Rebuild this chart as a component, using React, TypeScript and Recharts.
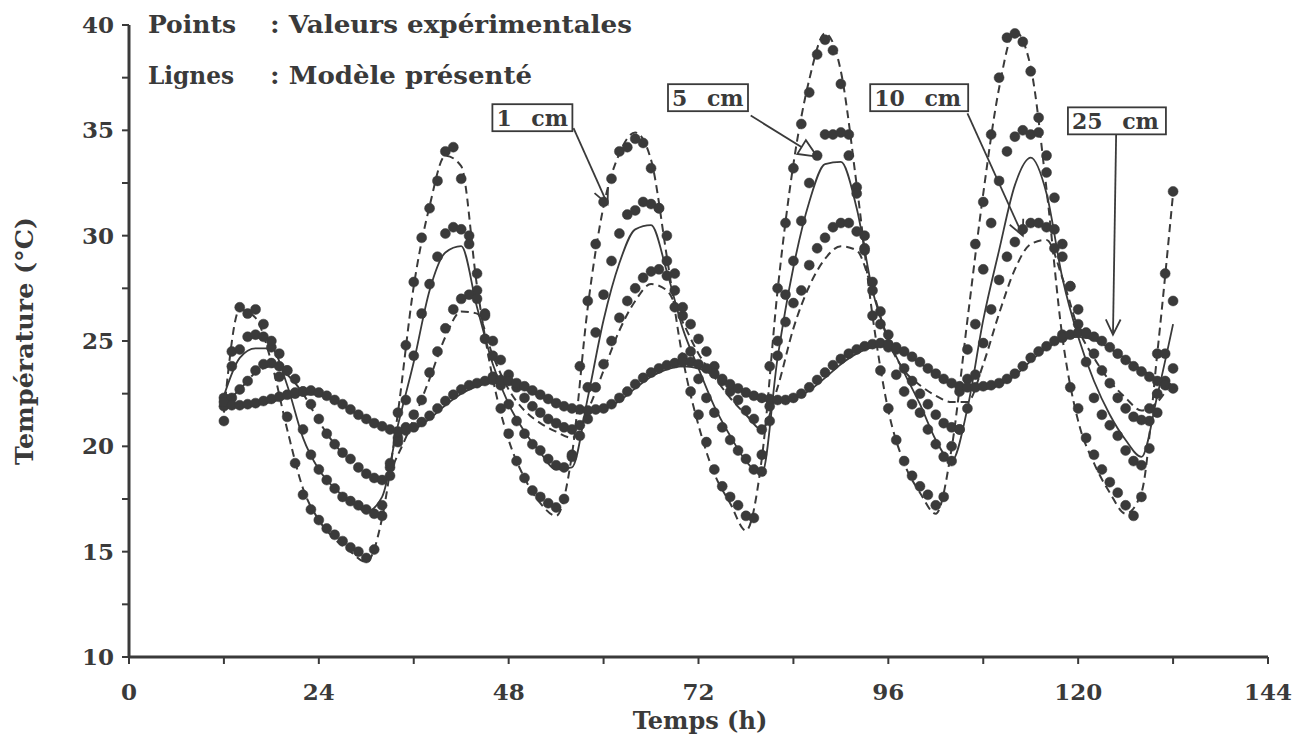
import React from "react";
import {
  ComposedChart,
  Line,
  XAxis,
  YAxis,
  ReferenceLine,
  ReferenceDot,
} from "recharts";

const INK = "#3a3a3a";
const FONT = "'DejaVu Serif', 'Liberation Serif', serif";

// measurement times (h), one reading per hour
const hours = [
  12, 13, 14, 15, 16, 17, 18, 19, 20, 21, 22, 23, 24, 25, 26, 27, 28, 29, 30, 31,
  32, 33, 34, 35, 36, 37, 38, 39, 40, 41, 42, 43, 44, 45, 46, 47, 48, 49, 50, 51,
  52, 53, 54, 55, 56, 57, 58, 59, 60, 61, 62, 63, 64, 65, 66, 67, 68, 69, 70, 71,
  72, 73, 74, 75, 76, 77, 78, 79, 80, 81, 82, 83, 84, 85, 86, 87, 88, 89, 90, 91,
  92, 93, 94, 95, 96, 97, 98, 99, 100, 101, 102, 103, 104, 105, 106, 107, 108, 109, 110, 111,
  112, 113, 114, 115, 116, 117, 118, 119, 120, 121, 122, 123, 124, 125, 126, 127, 128, 129, 130, 131,
  132,
];

// experimental points (°C)
const exp1cm = [
  21.2, 24.5, 26.6, 26.3, 26.5, 25.8, 24.7, 23.3, 21.4, 19.2, 17.7, 17.0, 16.5, 16.1, 15.8, 15.5, 15.2, 15.0, 14.7, 15.1,
  16.7, 19.0, 21.6, 24.8, 27.8, 29.9, 31.3, 32.6, 34.0, 34.2, 32.7, 30.0, 27.4, 25.1, 23.3, 21.8, 20.6, 19.3, 18.5, 17.9,
  17.6, 17.3, 17.1, 17.5, 19.6, 23.8, 26.9, 29.6, 31.6, 32.7, 34.0, 34.2, 34.6, 34.4, 33.2, 31.3, 28.8, 26.6, 24.2, 22.6,
  21.5, 20.2, 18.9, 18.1, 17.6, 17.2, 16.7, 16.6, 19.6, 23.8, 27.5, 30.6, 33.2, 35.3, 36.8, 38.6, 39.3, 38.8, 37.2, 34.8,
  32.3, 29.3, 26.2, 23.6, 21.8, 20.3, 19.3, 18.6, 18.1, 17.7, 17.2, 17.6, 20.0, 22.6, 24.6, 29.6, 31.6, 34.8, 37.5, 39.4,
  39.6, 39.2, 37.8, 35.6, 33.0, 29.4, 25.3, 22.8, 21.8, 20.4, 19.6, 18.9, 18.3, 17.8, 17.2, 16.7, 17.6, 21.2, 24.4, 28.2,
  32.1,
];
const exp5cm = [
  22.3, 23.8, 24.6, 25.2, 25.3, 25.2, 25.0, 24.4, 23.6, 22.5, 20.8, 19.6, 18.9, 18.4, 18.0, 17.6, 17.4, 17.2, 17.0, 16.8,
  17.2, 18.6, 20.4, 22.2, 24.3, 26.3, 27.7, 29.0, 30.1, 30.4, 30.3, 29.6, 28.2, 26.2, 24.3, 22.9, 22.0, 21.2, 20.6, 20.1,
  19.8, 19.4, 19.1, 19.0, 19.5, 21.0, 22.8, 25.4, 27.2, 28.8, 30.1, 31.0, 31.2, 31.6, 31.5, 31.3, 30.0, 28.2, 26.2, 24.5,
  23.2, 22.3, 21.6, 20.9, 20.3, 19.8, 19.4, 18.9, 18.8, 21.2, 25.0, 27.2, 28.8, 30.7, 32.5, 33.8, 34.8, 34.8, 34.9, 33.8,
  32.0, 30.0, 27.4, 25.8, 24.7, 23.4, 22.6, 22.0, 21.6, 20.8, 20.1, 19.5, 19.3, 20.8, 23.2, 25.8, 28.4, 30.6, 32.6, 34.0,
  34.7, 35.0, 34.8, 34.9, 33.8, 31.8, 29.6, 27.6, 25.8, 24.0, 22.3, 21.5, 21.0, 20.5, 19.8, 19.3, 19.1, 19.9, 21.6, 24.4,
  26.9,
];
const exp10cm = [
  21.9, 22.3, 22.7, 23.1, 23.6, 23.9, 23.95, 23.8, 23.6, 23.2, 22.6, 22.0, 21.3, 20.6, 20.1, 19.7, 19.4, 19.0, 18.7, 18.5,
  18.4, 19.2, 20.2, 20.9, 21.5, 22.2, 23.5, 24.5, 25.6, 26.5, 27.0, 27.2, 27.0, 26.3, 25.0, 24.1, 23.4, 22.8, 22.3, 21.9,
  21.6, 21.3, 21.1, 20.9, 20.8, 20.5, 21.3, 22.8, 23.9, 25.0, 26.1, 26.9, 27.5, 28.0, 28.3, 28.4, 28.1, 27.4, 26.6, 25.8,
  25.1, 24.5, 23.8, 23.1, 22.6, 22.2, 21.7, 21.3, 20.8, 21.9, 24.3, 25.9, 26.8, 27.4, 28.6, 29.4, 29.9, 30.4, 30.6, 30.6,
  30.2, 29.4, 27.8, 26.4, 25.3, 24.6, 23.7, 23.1, 22.5, 22.0, 21.5, 21.1, 20.9, 20.8, 21.8, 23.4, 24.9, 26.5, 27.9, 29.0,
  29.7, 30.3, 30.6, 30.6, 30.4, 30.3, 29.0, 27.6, 26.5, 25.4, 24.4, 23.6, 23.0, 22.3, 21.8, 21.4, 21.25, 21.8, 22.5, 23.1,
  23.7,
];
const exp25cm = [
  22.1, 21.95, 21.95, 22.0, 22.05, 22.15, 22.25, 22.35, 22.45, 22.55, 22.6, 22.65, 22.55, 22.4, 22.2, 22.0, 21.75, 21.5, 21.3, 21.1,
  20.95, 20.8, 20.7, 20.75, 20.9, 21.15, 21.45, 21.8, 22.15, 22.45, 22.7, 22.9, 23.0, 23.1, 23.15, 23.15, 23.1, 23.0, 22.85, 22.65,
  22.45, 22.25, 22.05, 21.9, 21.8, 21.75, 21.7, 21.75, 21.8, 22.0, 22.3, 22.6, 22.95, 23.25, 23.5, 23.7, 23.85, 23.95, 24.0, 24.0,
  23.9, 23.7, 23.45, 23.2, 22.95, 22.75, 22.55, 22.4, 22.3, 22.25, 22.2, 22.2, 22.3, 22.5, 22.8, 23.15, 23.5, 23.85, 24.15, 24.4,
  24.6, 24.75, 24.85, 24.9, 24.85, 24.7, 24.5, 24.25, 24.0, 23.7, 23.45, 23.2, 23.0, 22.85, 22.8, 22.8, 22.85, 22.9, 23.0, 23.2,
  23.45, 23.8, 24.2, 24.5, 24.75, 25.0, 25.15, 25.3, 25.4, 25.35, 25.2, 25.0, 24.7, 24.4, 24.1, 23.8, 23.55, 23.3, 23.1, 22.9,
  22.75,
];

// model curves, read every 2 h
const modelHours = [
  12, 14, 16, 18, 20, 22, 24, 26, 28, 30, 32, 34, 36, 38, 40, 42, 44, 46, 48, 50,
  52, 54, 56, 58, 60, 62, 64, 66, 68, 70, 72, 74, 76, 78, 80, 82, 84, 86, 88, 90,
  92, 94, 96, 98, 100, 102, 104, 106, 108, 110, 112, 114, 116, 118, 120, 122, 124, 126, 128, 130,
  132,
];
const model1cm = [
  21.6, 26.5, 26.1, 24.0, 20.8, 18.0, 16.5, 15.6, 15.0, 14.5, 16.6, 21.6, 27.6, 31.4, 33.8, 33.3, 27.6, 23.2, 20.3, 18.5,
  17.3, 16.7, 19.6, 26.6, 31.4, 33.9, 34.9, 33.6, 29.0, 24.2, 21.0, 18.7, 17.3, 16.0, 19.4, 27.4, 33.4, 37.4, 39.6, 37.8,
  32.4, 26.2, 21.7, 19.2, 17.8, 16.8, 19.9, 26.0, 32.0, 37.0, 39.7, 38.0, 32.2, 25.2, 21.2, 19.2, 17.8, 16.8, 17.8, 24.4,
  32.0,
];
const model5cm = [
  22.4, 24.2, 24.65, 24.65, 22.9, 20.4, 18.9, 18.0, 17.4, 16.9, 17.6, 21.0, 24.0, 27.4, 29.2, 29.5, 26.6, 23.9, 22.0, 20.7,
  19.7, 18.9, 19.0, 22.3, 26.0, 28.7, 30.3, 30.5, 28.3, 25.6, 23.7, 21.9, 20.5, 19.3, 18.7, 24.2, 28.5, 31.6, 33.4, 33.5,
  31.3, 27.4, 25.1, 23.5, 22.0, 20.3, 19.3, 21.8, 26.0, 29.3, 32.4, 33.7, 32.0, 28.0, 25.2, 23.1, 21.5, 20.3, 19.5, 22.4,
  25.8,
];
const model10cm = [
  22.0, 22.7, 23.5, 23.8, 23.4, 22.5, 21.2, 20.1, 19.3, 18.7, 18.3, 19.6, 21.3, 23.2, 25.2, 26.4, 26.3, 24.3, 22.7, 21.7,
  21.1, 20.7, 20.4, 21.7, 23.6, 25.5, 26.9, 27.7, 27.4, 25.9, 24.4, 23.3, 22.3, 21.5, 20.8, 22.8, 25.6, 27.6, 28.9, 29.5,
  29.3, 27.4, 25.0, 23.6, 22.9, 22.4, 22.1, 22.1, 23.9, 26.3, 28.4, 29.6, 29.8, 28.0, 25.6, 24.2, 23.1, 22.3, 21.7, 22.1,
  23.2,
];
const model25cm = [
  22.0, 21.9, 21.95, 22.1, 22.3, 22.45, 22.45, 22.15, 21.7, 21.25, 20.9, 20.65, 20.8, 21.3, 21.95, 22.5, 22.85, 23.0, 22.95, 22.7,
  22.35, 22.0, 21.75, 21.65, 21.75, 22.15, 22.75, 23.3, 23.65, 23.8, 23.7, 23.35, 22.9, 22.5, 22.25, 22.15, 22.25, 22.65, 23.25, 23.9,
  24.4, 24.7, 24.75, 24.45, 23.95, 23.4, 22.95, 22.7, 22.7, 22.9, 23.35, 24.05, 24.65, 25.05, 25.2, 25.05, 24.65, 24.15, 23.65, 23.2,
  22.85,
];

const xTicks = [0, 12, 24, 36, 48, 60, 72, 84, 96, 108, 120, 132, 144];
const yTicks = [10, 12.5, 15, 17.5, 20, 22.5, 25, 27.5, 30, 32.5, 35, 37.5, 40];

// depth call-outs, in data coordinates (h, °C)
const depthNames = ["1 cm", "5 cm", "10 cm", "25 cm"];
const boxCentre = [
  [51.0, 35.6],
  [73.2, 36.55],
  [99.9, 36.55],
  [124.9, 35.45],
];
const arrowStart = [
  [56.2, 35.1],
  [78.6, 35.7],
  [106.0, 35.8],
  [124.8, 34.8],
];
const arrowEnd = [
  [60.5, 31.5],
  [87.0, 33.75],
  [113.0, 30.0],
  [124.4, 25.3],
];
const arrowKind = ["open", "hollow", "open", "open"];

const rows = hours.map((t, i) => {
  const row: Record<string, number> = {
    t,
    e1: exp1cm[i],
    e5: exp5cm[i],
    e10: exp10cm[i],
    e25: exp25cm[i],
  };
  const j = modelHours.indexOf(t);
  if (j >= 0) {
    row.m1 = model1cm[j];
    row.m5 = model5cm[j];
    row.m10 = model10cm[j];
    row.m25 = model25cm[j];
  }
  return row;
});

const Arrow = (props: any) => {
  const { x1, y1, x2, y2, kind } = props;
  const a = Math.atan2(y2 - y1, x2 - x1);
  const len = kind === "hollow" ? 20 : 17;
  const spread = kind === "hollow" ? 0.42 : 0.45;
  const p1 = [x2 - len * Math.cos(a - spread), y2 - len * Math.sin(a - spread)];
  const p2 = [x2 - len * Math.cos(a + spread), y2 - len * Math.sin(a + spread)];
  return (
    <g>
      <line x1={x1} y1={y1} x2={x2} y2={y2} stroke={INK} strokeWidth={1.8} />
      {kind === "hollow" ? (
        <polygon
          points={`${x2},${y2} ${p1[0]},${p1[1]} ${p2[0]},${p2[1]}`}
          fill="#fff"
          stroke={INK}
          strokeWidth={1.8}
        />
      ) : (
        <polyline
          points={`${p1[0]},${p1[1]} ${x2},${y2} ${p2[0]},${p2[1]}`}
          fill="none"
          stroke={INK}
          strokeWidth={1.8}
        />
      )}
    </g>
  );
};

const DepthBox = (props: any) => {
  const { cx, cy, text } = props;
  const w = text.length > 4 ? 98 : 80;
  const h = 27;
  return (
    <g>
      <rect
        x={cx - w / 2}
        y={cy - h / 2}
        width={w}
        height={h}
        fill="#fff"
        stroke={INK}
        strokeWidth={1.8}
      />
      <text
        x={cx - w / 2 + 4}
        y={cy + 8}
        fontFamily={FONT}
        fontWeight="bold"
        fontSize={22}
        fill={INK}
        wordSpacing={12}
      >
        {text}
      </text>
    </g>
  );
};

const tickStyle = {
  fontFamily: FONT,
  fontWeight: "bold" as const,
  fontSize: 23,
  fill: INK,
};

export default function App() {
  return (
    <div style={{ position: "absolute", left: 0, top: 0, width: 1297, height: 740, background: "#fff" }}>
      <ComposedChart
        width={1297}
        height={740}
        data={rows}
        margin={{ top: 25, right: 29, bottom: 43, left: 0 }}
      >
        <XAxis
          type="number"
          dataKey="t"
          domain={[0, 144]}
          ticks={xTicks}
          interval={0}
          tickFormatter={(v: number) => (v % 24 === 0 ? String(v) : "")}
          height={40}
          tickSize={7}
          tickMargin={20}
          tick={tickStyle}
          axisLine={{ stroke: INK, strokeWidth: 3 }}
          tickLine={{ stroke: INK, strokeWidth: 2 }}
        />
        <YAxis
          type="number"
          domain={[10, 40]}
          ticks={yTicks}
          interval={0}
          tickFormatter={(v: number) => (v % 5 === 0 ? String(v) : "")}
          width={129}
          tickSize={7}
          tickMargin={8}
          tick={tickStyle}
          axisLine={{ stroke: INK, strokeWidth: 3 }}
          tickLine={{ stroke: INK, strokeWidth: 2 }}
        />

        <Line dataKey="m1" type="monotone" stroke={INK} strokeWidth={2} strokeDasharray="8 5" dot={false} activeDot={false} connectNulls isAnimationActive={false} />
        <Line dataKey="m5" type="monotone" stroke={INK} strokeWidth={1.8} dot={false} activeDot={false} connectNulls isAnimationActive={false} />
        <Line dataKey="m10" type="monotone" stroke={INK} strokeWidth={2} strokeDasharray="8 5" dot={false} activeDot={false} connectNulls isAnimationActive={false} />
        <Line dataKey="m25" type="monotone" stroke={INK} strokeWidth={1.8} dot={false} activeDot={false} connectNulls isAnimationActive={false} />

        {["e1", "e5", "e10", "e25"].map((k) => (
          <Line
            key={k}
            dataKey={k}
            stroke="none"
            dot={{ r: 5, fill: INK, stroke: INK, strokeWidth: 0.5 }}
            activeDot={false}
            isAnimationActive={false}
          />
        ))}

        {depthNames.map((name, i) => (
          <ReferenceLine
            key={"a" + name}
            segment={[
              { x: arrowStart[i][0], y: arrowStart[i][1] },
              { x: arrowEnd[i][0], y: arrowEnd[i][1] },
            ]}
            ifOverflow="visible"
            shape={(p: any) => <Arrow {...p} kind={arrowKind[i]} />}
          />
        ))}
        {depthNames.map((name, i) => (
          <ReferenceDot
            key={"b" + name}
            x={boxCentre[i][0]}
            y={boxCentre[i][1]}
            ifOverflow="visible"
            shape={(p: any) => <DepthBox cx={p.cx} cy={p.cy} text={name} />}
          />
        ))}
      </ComposedChart>

      <svg
        width={1297}
        height={740}
        style={{ position: "absolute", left: 0, top: 0, pointerEvents: "none" }}
      >
        <g fontFamily={FONT} fontWeight="bold" fontSize={24} fill={INK}>
          <text x={148} y={33} textLength={88} lengthAdjust="spacingAndGlyphs">Points</text>
          <text x={270} y={33} textLength={362} lengthAdjust="spacingAndGlyphs">: Valeurs expérimentales</text>
          <text x={148} y={84} textLength={86} lengthAdjust="spacingAndGlyphs">Lignes</text>
          <text x={270} y={84} textLength={262} lengthAdjust="spacingAndGlyphs">: Modèle présenté</text>
          <text
            x={33}
            y={341}
            textAnchor="middle"
            transform="rotate(-90 33 341)"
            textLength={248}
            lengthAdjust="spacingAndGlyphs"
          >
            Température (°C)
          </text>
          <text x={700} y={729} textAnchor="middle">
            Temps (h)
          </text>
        </g>
      </svg>
    </div>
  );
}
